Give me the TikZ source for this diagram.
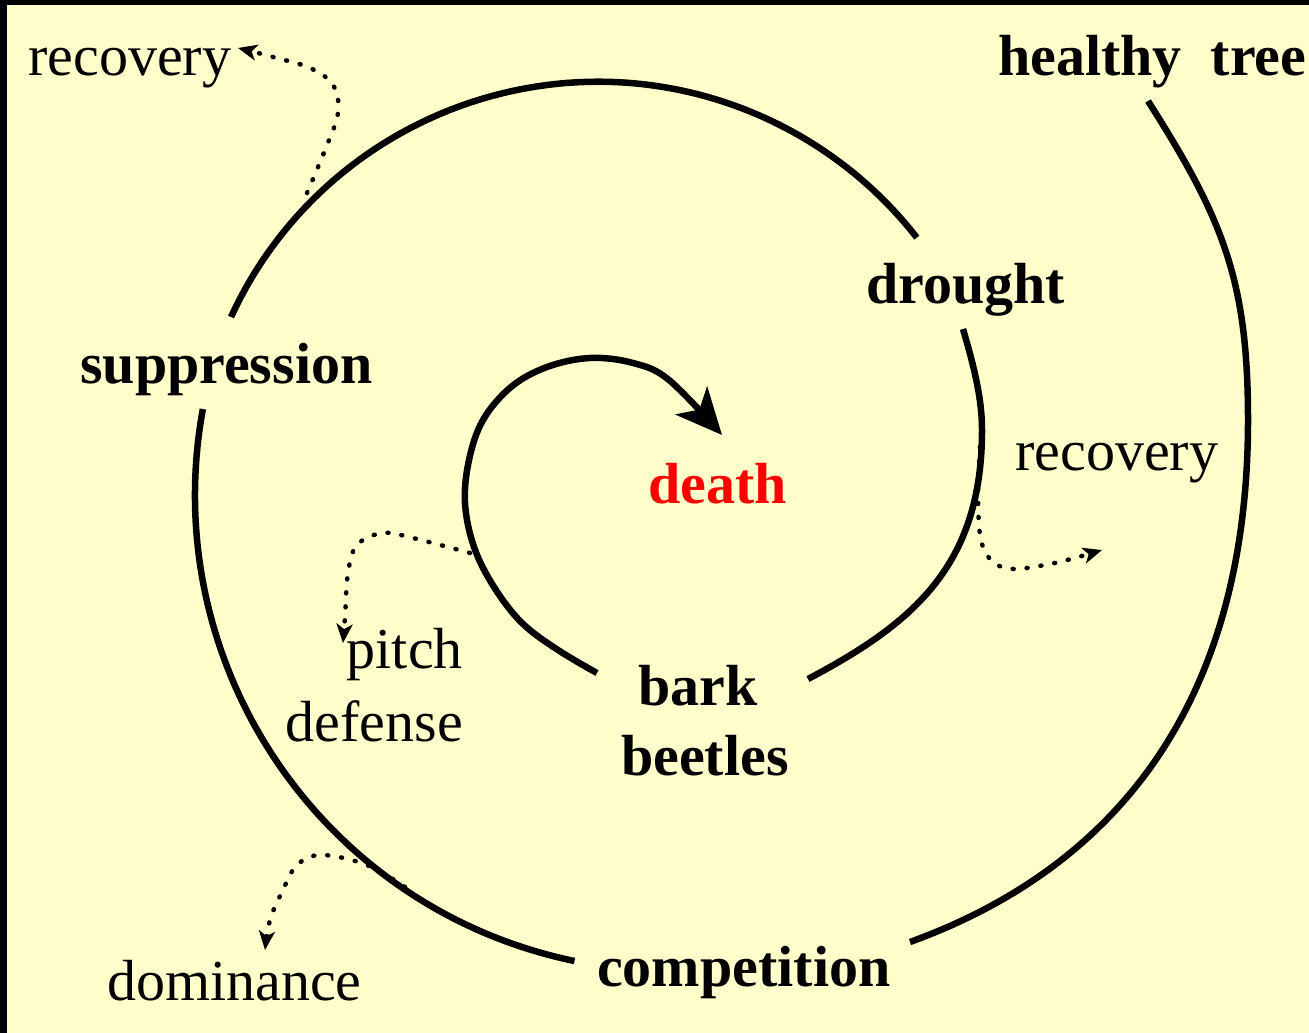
\documentclass[tikz,border=0pt]{standalone}
\usepackage{fontspec}
\setmainfont{Liberation Serif}
\usetikzlibrary{arrows.meta}
\definecolor{bgyellow}{HTML}{FFFFCC}
\definecolor{deathred}{HTML}{FF0000}
\begin{document}
\begin{tikzpicture}[x=1pt,y=-1pt,
  lbl/.style={inner sep=0pt, font=\fontsize{58}{60}\selectfont},
  blbl/.style={inner sep=0pt, font=\fontsize{58}{60}\selectfont\bfseries},
  spiralline/.style={line width=6.5pt},
  dotline/.style={line width=4.5pt, line cap=round, dash pattern=on 1pt off 13pt, smooth, tension=0.6,
    -{Stealth[length=19pt,width=16pt,inset=5pt]}},
  bigtip/.style={-{Stealth[length=46pt,width=42pt,inset=12pt]}}
]
\useasboundingbox (0,0) rectangle (1309,1033);
\fill[bgyellow] (0,0) rectangle (1309,1033);
\fill[black] (0,0) rectangle (1309,5);
\fill[black] (0,0) rectangle (7,1033);

% labels
\node[lbl, anchor=base west] (rec1) at (28,76) {recovery};
\node[blbl, anchor=base west] (healthy) at (998,76) {healthy\ \ tree};
\node[blbl, anchor=base west] (drought) at (866,303) {drought};
\node[blbl, anchor=base west] (suppr) at (80,383) {suppression};
\node[lbl, anchor=base west] (rec2) at (1015,470) {recovery};
\node[blbl, anchor=base west, text=deathred] (death) at (648,503) {death};
\node[lbl, anchor=base east] (pitch) at (463,668) {pitch};
\node[lbl, anchor=base east] (defense) at (463,741) {defense};
\node[blbl, anchor=base west] (bark) at (638,705) {bark};
\node[blbl, anchor=base west] (beetles) at (621,775) {beetles};
\node[blbl, anchor=base west] (compet) at (597,986) {competition};
\node[lbl, anchor=base west] (domin) at (107,1000) {dominance};

% segment end points
\coordinate (aS) at (1148,101);
\coordinate (aM) at (1248,420);
\coordinate (aE) at (910,942);
\coordinate (bS) at (574.5,961);
\coordinate (cS) at (231,317);
\coordinate (dS) at (963,329);
\coordinate (dM) at (982,430);
\coordinate (dE) at (808,679);
\coordinate (eS) at (597,673);
\coordinate (eE) at (722,435);

% spiral
\draw[spiralline] (aS) .. controls (1223,219) and (1248,280) .. (aM)
                       .. controls (1248,680) and (1136,860) .. (aE);
\draw[spiralline] (bS) arc[start angle=101.7, end angle=190.4, radius=476];
\draw[spiralline] (cS) arc[start angle=-155.3, end angle=-37.9, radius=404];
\draw[spiralline] (dS) .. controls (975,370) and (982,400) .. (dM)
                       .. controls (982,565) and (914,623) .. (dE);
\draw[spiralline, bigtip, smooth, tension=0.6] plot coordinates {(eS) (558,650) (522,623) (494,587) (474,547) (465,503) (469,460) (483,420) (511,387) (547,367) (590,358) (633,363) (669,380) (eE)};

% dotted side arrows
\coordinate (f1) at (307,193);
\coordinate (f2) at (980,447);
\coordinate (f3) at (470,553);
\coordinate (f4) at (405,887);
\coordinate (t1) at (238,48);
\coordinate (t2) at (1102,550);
\coordinate (t3) at (343,643);
\coordinate (t4) at (265,950);
\draw[dotline] plot coordinates {(f1) (325,150) (338,113) (333,85) (310,68) (273,57) (t1)};
\draw[dotline] plot coordinates {(f2) (978,500) (983,547) (1005,568) (1050,564) (t2)};
\draw[dotline] plot coordinates {(f3) (413,538) (383,533) (357,545) (348,573) (345,617) (t3)};
\draw[dotline] plot coordinates {(f4) (367,865) (322,855) (297,865) (282,892) (270,920) (t4)};
\end{tikzpicture}
\end{document}
